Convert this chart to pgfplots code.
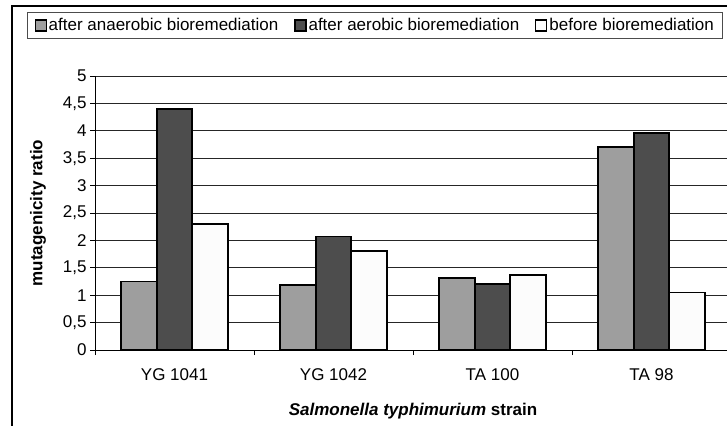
\documentclass[border=0pt]{standalone}
\usepackage{pgfplots}
\pgfplotsset{compat=1.18}
\usepackage{fontspec}
\setmainfont{Liberation Sans}
\definecolor{barlight}{RGB}{158,158,158}
\definecolor{bardark}{RGB}{77,77,77}
\definecolor{barwhite}{RGB}{252,252,252}
\begin{document}
\begin{tikzpicture}
\path[use as bounding box, clip] (0pt,0pt) rectangle (727pt,425pt);
\fill[white] (0pt,0pt) rectangle (727pt,425pt);
\begin{axis}[
  at={(95pt,75pt)}, anchor=south west,
  scale only axis, width=636pt, height=274pt,
  xmin=-0.5, xmax=3.5, ymin=0, ymax=5,
  ytick={0,0.5,1,1.5,2,2.5,3,3.5,4,4.5,5},
  xtick={0,1,2,3},
  xticklabels={YG 1041, YG 1042, TA 100, TA 98},
  minor xtick={-0.5,0.5,1.5,2.5,3.5},
  major x tick style={draw=none},
  tick align=outside,
  axis x line*=bottom, axis y line*=left,
  axis line style={black, line width=0.9pt},
  ymajorgrids,
  grid style={black!85, line width=0.8pt},
  major tick length=5pt, minor tick length=5pt,
  tick style={black, line width=0.8pt},
  /pgf/number format/use comma,
  /pgf/number format/assume math mode=true,
  ticklabel style={font=\fontsize{17}{20}\selectfont},
  xticklabel style={yshift=-10pt},
  label style={font=\fontsize{17}{20}\selectfont\bfseries},
  ylabel={mutagenicity ratio},
  ylabel style={at={(axis description cs:-0.0896,0.5)}, anchor=center},
  xlabel={\textit{Salmonella typhimurium} strain},
  xlabel style={at={(axis description cs:0.5,-0.222)}, anchor=center},
  ybar=0pt, bar width=35.5pt,
  legend columns=3,
  legend style={at={(-0.1069,1.2336)}, anchor=north west,
    draw=black!70, line width=1pt,
    font=\fontsize{17}{20}\selectfont,
    inner xsep=7pt, inner ysep=4pt,
    /tikz/every even column/.append style={column sep=14pt}},
  legend image code/.code={\draw[#1, line width=1.2pt] (0pt,-5.5pt) rectangle (11pt,5.5pt);},
]
\addplot[fill=barlight, draw=black, line width=1.6pt] coordinates {(0,1.25) (1,1.19) (2,1.31) (3,3.70)};
\addplot[fill=bardark, draw=black, line width=1.6pt] coordinates {(0,4.40) (1,2.07) (2,1.20) (3,3.96)};
\addplot[fill=barwhite, draw=black, line width=1.6pt] coordinates {(0,2.30) (1,1.81) (2,1.37) (3,1.05)};
\legend{after anaerobic bioremediation, after aerobic bioremediation, before bioremediation}
\end{axis}
\draw[line width=2pt] (12pt,-5pt) -- (12pt,419pt) -- (740pt,419pt);
\end{tikzpicture}
\end{document}
